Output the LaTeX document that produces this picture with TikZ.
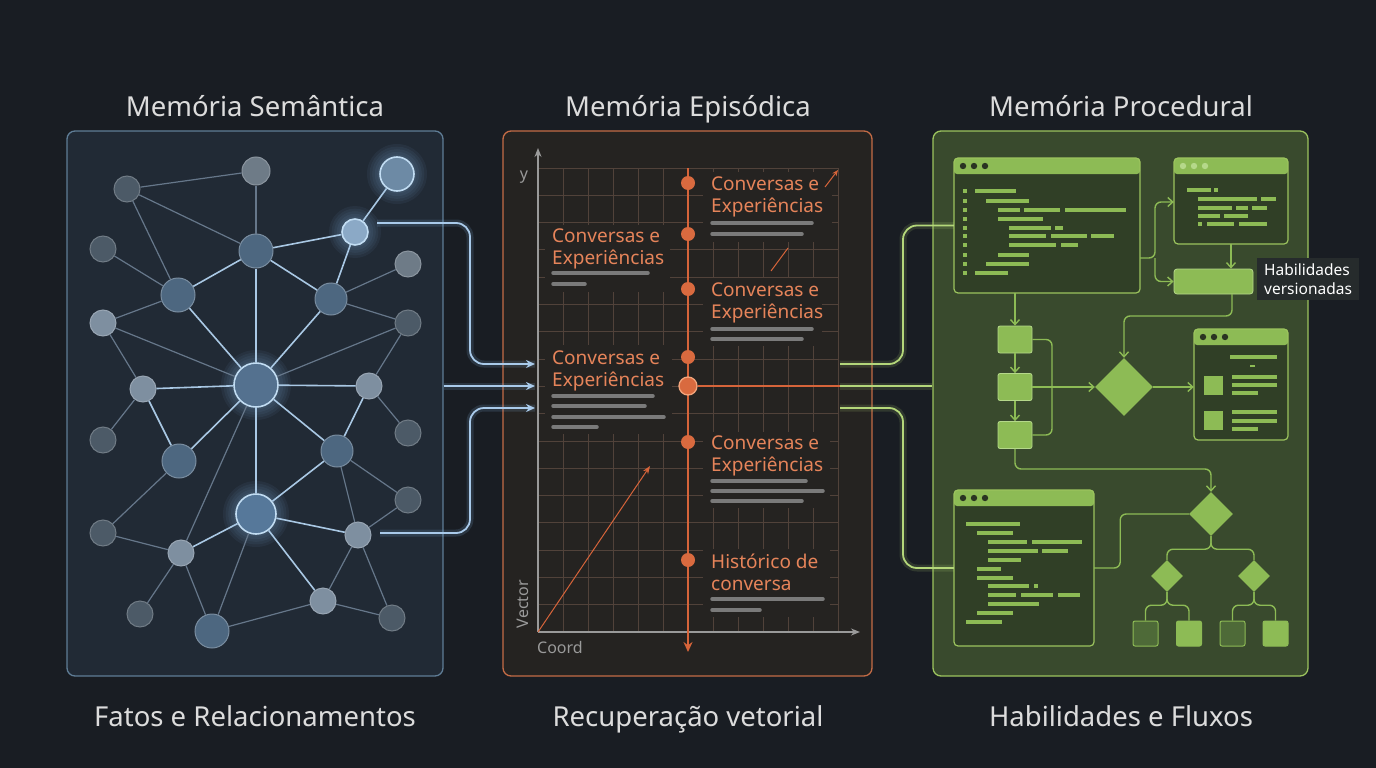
\documentclass[tikz,border=0pt]{standalone}
\usepackage{fontspec}
\setmainfont{Noto Sans}
\usetikzlibrary{arrows.meta,shapes.geometric}
\definecolor{bg}{HTML}{191D23}
\definecolor{lfill}{HTML}{212A35}
\definecolor{lborder}{HTML}{5F7D96}
\definecolor{mfill}{HTML}{252321}
\definecolor{mborder}{HTML}{C46C46}
\definecolor{rfill}{HTML}{394A2D}
\definecolor{rborder}{HTML}{9CC45E}
\definecolor{gr}{HTML}{8DBB55}
\definecolor{grdark}{HTML}{4E6A38}
\definecolor{grdot}{HTML}{2A3422}
\definecolor{grlight}{HTML}{B5D88A}
\definecolor{ttext}{HTML}{DCDCDC}
\definecolor{otext}{HTML}{E6845A}
\definecolor{oline}{HTML}{D6643A}
\definecolor{odot}{HTML}{D96A3F}
\definecolor{oring}{HTML}{F3A57C}
\definecolor{bars}{HTML}{7A7A7A}
\definecolor{gridc}{HTML}{51423A}
\definecolor{axisc}{HTML}{9A9A9A}
\definecolor{edim}{HTML}{66778A}
\definecolor{ebright}{HTML}{A9C8E4}
\definecolor{glowc}{HTML}{8CC0F0}
\definecolor{bluec}{HTML}{A9CAEA}
\definecolor{greenc}{HTML}{B4D77A}
\definecolor{labbg}{HTML}{262B2C}
\definecolor{hl}{HTML}{C2DDF3}
\definecolor{cgray}{HTML}{6E7B87}
\definecolor{cdark}{HTML}{4C5A67}
\definecolor{cblue}{HTML}{4D6780}
\definecolor{clight}{HTML}{7E8FA0}
\definecolor{hA}{HTML}{6D8AA5}
\definecolor{hB}{HTML}{8BA9C6}
\definecolor{hC}{HTML}{54718F}
\definecolor{hD}{HTML}{56789A}
\newcommand\gnode[5]{\node[#5,minimum size={2*#4}] (#1) at (#2,#3) {};}
\newcommand\halo[3]{\foreach \k in {1,...,5}{\fill[glowc,opacity=0.06] (#1,#2) circle ({#3+2.6*\k});}}
\newcommand\cl[3]{\draw[codeline] (#1,#3) -- (#2,#3);}
\newcommand\bl[3]{\draw[barline] (#1,#3) -- (#2,#3);}
\newcommand\codewin[6]{%
  \node[winbox,minimum width={#4-#2},minimum height={#5-#3}] (#1) at ({(#2+#4)/2},{(#3+#5)/2}) {};
  \fill[gr,rounded corners=3pt] (#2,#3) rectangle (#4,{#3+16});
  \fill[#6] ({#2+9},{#3+8}) circle (3.2);
  \fill[#6] ({#2+20},{#3+8}) circle (3.2);
  \fill[#6] ({#2+31},{#3+8}) circle (3.2);
  \draw[rborder,line width=1.2pt,rounded corners=4pt] (#2,#3) rectangle (#4,#5);
}
\begin{document}
\begin{tikzpicture}[x=1pt,y=-1pt,
  title/.style={font=\fontsize{27.5}{33}\selectfont, text=ttext, anchor=base, inner sep=0pt},
  panel/.style={rounded corners=8pt, line width=1.3pt, inner sep=0pt},
  gn/.style={circle, inner sep=0pt, line width=1pt},
  nG/.style={gn, fill=cgray, draw=cgray!80!white},
  nD/.style={gn, fill=cdark, draw=cdark!80!white},
  nB/.style={gn, fill=cblue, draw=cblue!75!white},
  nL/.style={gn, fill=clight, draw=clight!80!white},
  nH/.style={gn, fill=#1, draw=hl, line width=1.6pt},
  dimedge/.style={draw=edim, line width=1.2pt},
  brightedge/.style={draw=ebright, line width=1.6pt},
  ctext/.style={font=\fontsize{19}{22}\selectfont, text=otext, align=left, anchor=north west, inner sep=0pt},
  axlabel/.style={font=\fontsize{16}{18}\selectfont, text=axisc, inner sep=0pt},
  barline/.style={draw=bars, line width=3.5pt, line cap=round},
  codeline/.style={draw=gr, line width=3.6pt},
  tdot/.style={circle, inner sep=0pt, minimum size=14pt, fill=odot},
  winbox/.style={rectangle, rounded corners=4pt, fill=rfill!85!black, inner sep=0pt},
  gbox/.style={rectangle, rounded corners=2pt, fill=gr, draw=grlight, line width=0.8pt, inner sep=0pt, minimum width=34pt, minimum height=27pt},
  gdia/.style={diamond, fill=gr, inner sep=0pt, aspect=1},
  gsq/.style={rectangle, rounded corners=2pt, draw=gr, line width=1pt, inner sep=0pt, minimum size=25pt},
  gline/.style={draw=gr, line width=1.4pt, rounded corners=6pt},
  garrow/.style={gline, -{Straight Barb[length=5pt,width=9pt]}},
  blueconn/.style={draw=bluec, line width=1.8pt, rounded corners=14pt,
     preaction={draw=glowc, line width=7pt, draw opacity=0.15, arrows=-},
     -{Stealth[length=9pt,width=8pt]}},
  greenconn/.style={draw=greenc, line width=1.8pt, rounded corners=14pt,
     preaction={draw=greenc, line width=7pt, draw opacity=0.15}},
]
\useasboundingbox (0,0) rectangle (1376,768);
\fill[bg] (0,0) rectangle (1376,768);

% ---------- titles ----------
\node[title] (tL) at (255,116) {Memória Semântica};
\node[title] (tM) at (688,116) {Memória Episódica};
\node[title] (tR) at (1121,116) {Memória Procedural};
\node[title] (bL) at (255,726) {Fatos e Relacionamentos};
\node[title] (bM) at (688,726) {Recuperação vetorial};
\node[title] (bR) at (1121,726) {Habilidades e Fluxos};

% ---------- panels ----------
\node[panel, draw=lborder, fill=lfill, minimum width=376pt, minimum height=545pt] (pL) at (255,403.5) {};
\node[panel, draw=mborder, fill=mfill, minimum width=369pt, minimum height=545pt] (pM) at (687.5,403.5) {};
\node[panel, draw=rborder, fill=rfill, minimum width=375pt, minimum height=545pt] (pR) at (1120.5,403.5) {};

% ---------- left: graph ----------
\halo{397}{174}{17}
\halo{355}{232}{13}
\halo{256}{385}{22}
\halo{256}{514}{20}
\gnode{n1}{256}{171}{14}{nG}
\gnode{n2}{127}{189}{13}{nD}
\gnode{n3}{397}{174}{17}{nH=hA}
\gnode{n4}{355}{232}{13}{nH=hB}
\gnode{n5}{256}{251}{17}{nB}
\gnode{n6}{103}{249}{13}{nD}
\gnode{n7}{178}{295}{17}{nB}
\gnode{n8}{331}{299}{16}{nB}
\gnode{n9}{408}{264}{13}{nG}
\gnode{n10}{103}{323}{13}{nL}
\gnode{n11}{408}{323}{13}{nD}
\gnode{n12}{256}{385}{22}{nH=hC}
\gnode{n13}{143}{389}{13}{nL}
\gnode{n14}{369}{386}{13}{nL}
\gnode{n15}{103}{440}{13}{nD}
\gnode{n16}{408}{433}{13}{nD}
\gnode{n17}{179}{461}{17}{nB}
\gnode{n18}{337}{451}{16}{nB}
\gnode{n19}{256}{514}{20}{nH=hD}
\gnode{n20}{408}{500}{13}{nD}
\gnode{n21}{103}{533}{13}{nD}
\gnode{n22}{181}{553}{13}{nL}
\gnode{n23}{358}{535}{13}{nL}
\gnode{n24}{140}{614}{13}{nD}
\gnode{n25}{212}{631}{17}{nB}
\gnode{n26}{323}{601}{13}{nL}
\gnode{n27}{392}{618}{13}{nD}
\foreach \a/\b in {n2/n1,n2/n5,n2/n7,n1/n5,n6/n7,n10/n7,n8/n9,n8/n11,n10/n12,n10/n13,n11/n12,n11/n14,n13/n15,n12/n22,n17/n21,n18/n20,n18/n23,n19/n25,n20/n23,n21/n22,n22/n24,n22/n25,n23/n26,n23/n27,n25/n26,n26/n27,n14/n16}
  \draw[dimedge] (\a) -- (\b);
\foreach \a/\b in {n5/n4,n4/n3,n4/n8,n5/n7,n5/n8,n5/n12,n7/n12,n8/n12,n12/n13,n12/n14,n13/n17,n12/n17,n14/n18,n12/n18,n12/n19,n18/n19,n19/n23,n19/n22,n19/n26}
  \draw[brightedge] (\a) -- (\b);

% ---------- middle: timeline ----------
\foreach \k in {1,...,12} \draw[gridc, line width=0.8pt] ({538+25*\k},168) -- ({538+25*\k},632);
\foreach \k in {1,...,17} \draw[gridc, line width=0.8pt] (538,{632-27.3*\k}) -- (838,{632-27.3*\k});
% text backdrops
\fill[mfill] (703,172) rectangle (832,242);
\fill[mfill] (545,225) rectangle (670,292);
\fill[mfill] (703,278) rectangle (822,346);
\fill[mfill] (545,345) rectangle (672,434);
\fill[mfill] (703,432) rectangle (830,508);
\fill[mfill] (703,549) rectangle (830,617);

\coordinate (O) at (538,632);
\coordinate (Ytip) at (538,148);
\coordinate (Xtip) at (860,632);
\draw[axisc, line width=1.4pt, -{Stealth[length=9pt,width=7pt]}] (O) -- (Ytip);
\draw[axisc, line width=1.4pt, -{Stealth[length=9pt,width=7pt]}] (O) -- (Xtip);
\node[axlabel] (ly) at (524,177) {y};
\node[axlabel, rotate=90] (lv) at (523,604) {Vector};
\node[axlabel] (lc) at (560,647) {Coord};
\coordinate (D1) at (650,466);
\draw[oline, line width=1pt, -{Stealth[length=8pt,width=6pt]}] (O) -- (D1);
\coordinate (sa1) at (825,187);
\coordinate (sa2) at (838,170);
\draw[oline, line width=1pt, -{Stealth[length=6pt,width=5pt]}] (sa1) -- (sa2);
\coordinate (sl1) at (771,271);
\coordinate (sl2) at (788,248);
\draw[oline, line width=1pt] (sl1) -- (sl2);

\coordinate (T0) at (688,168);
\coordinate (T1) at (688,652);
\draw[oline, line width=2.6pt, -{Stealth[length=10pt,width=9pt]}] (T0) -- (T1);
\node[tdot] (d1) at (688,183) {};
\node[tdot] (d2) at (688,234) {};
\node[tdot] (d3) at (688,289) {};
\node[tdot] (d4) at (688,357) {};
\node[tdot, minimum size=18pt, draw=oring, line width=1.3pt] (d5) at (688,386) {};
\node[tdot] (d6) at (688,442) {};
\node[tdot] (d7) at (688,560) {};

\node[ctext] (c1) at (711,177) {Conversas e\\Experiências};
\bl{712}{812}{223}\bl{712}{802}{234}
\node[ctext] (c2) at (552,229) {Conversas e\\Experiências};
\bl{553}{648}{273}\bl{553}{585}{284}
\node[ctext] (c3) at (711,283) {Conversas e\\Experiências};
\bl{712}{812}{329}\bl{712}{802}{339}
\node[ctext] (c4) at (552,351) {Conversas e\\Experiências};
\bl{553}{653}{396}\bl{553}{645}{406}\bl{553}{664}{417}\bl{553}{597}{427}
\node[ctext] (c5) at (711,436) {Conversas e\\Experiências};
\bl{712}{806}{481}\bl{712}{823}{491}\bl{712}{802}{501}
\node[ctext] (c6) at (711,554) {Histórico de\\conversa};
\bl{712}{823}{599}\bl{712}{760}{610}

% ---------- right: procedural ----------
\codewin{w1}{954}{158}{1140}{293}{grdot}
\foreach \yy in {191,201,210,219,228,236,245,255,264,273} \fill[gr] (963,{\yy-2}) rectangle (967,{\yy+2});
\cl{975}{1016}{191}
\cl{986}{1029}{201}
\cl{998}{1020}{210}\cl{1024}{1060}{210}\cl{1065}{1126}{210}
\cl{998}{1043}{219}
\cl{1009}{1051}{228}\cl{1055}{1063}{228}
\cl{1009}{1046}{236}\cl{1051}{1087}{236}\cl{1091}{1114}{236}
\cl{1009}{1056}{245}\cl{1061}{1078}{245}
\cl{998}{1029}{255}
\cl{986}{1029}{264}
\cl{975}{1008}{273}

\codewin{w2}{1174}{158}{1288}{244}{grlight}
\cl{1187}{1211}{190}\cl{1214}{1218}{190}
\cl{1198}{1257}{199}\cl{1261}{1276}{199}
\cl{1198}{1232}{208}\cl{1236}{1248}{208}\cl{1252}{1267}{208}
\cl{1198}{1220}{216}\cl{1224}{1248}{216}
\cl{1198}{1202}{224}\cl{1207}{1234}{224}\cl{1239}{1267}{224}

\node[rectangle, rounded corners=3pt, fill=gr, draw=grlight, line width=0.8pt, inner sep=0pt, minimum width=79pt, minimum height=25pt] (vbar) at (1213.5,281.5) {};
\node[fill=labbg, anchor=west, inner xsep=7pt, inner ysep=5pt, align=left, text=white, font=\fontsize{15.5}{19.5}\selectfont] (vlab) at (1257,279) {Habilidades\\versionadas};

\codewin{w3}{1194}{329}{1288}{440}{grdot}
\cl{1230}{1277}{357}
\draw[gr, line width=1.5pt] (1250,366) -- (1255,366);
\fill[gr] (1204,376) rectangle (1223,395);
\fill[gr] (1204,411) rectangle (1223,430);
\cl{1232}{1277}{377}\cl{1232}{1277}{385}\cl{1232}{1258}{393}
\cl{1232}{1277}{412}\cl{1232}{1277}{421}\cl{1232}{1258}{429}

\codewin{w4}{954}{490}{1094}{646}{grdot}
\cl{966}{1020}{524}
\cl{977}{1013}{533}
\cl{988}{1027}{542}\cl{1032}{1082}{542}
\cl{988}{1038}{551}\cl{1042}{1068}{551}
\cl{988}{1021}{560}
\cl{977}{1001}{569}
\cl{977}{1013}{578}
\cl{988}{1029}{586}\cl{1034}{1038}{586}
\cl{988}{1016}{595}\cl{1021}{1053}{595}\cl{1058}{1080}{595}
\cl{988}{1039}{604}
\cl{977}{1013}{613}
\cl{966}{1002}{622}

\node[gbox] (bA) at (1015,339.5) {};
\node[gbox] (bB) at (1015,387) {};
\node[gbox] (bC) at (1015,435) {};
\node[gdia, minimum width=58pt, minimum height=58pt] (dm1) at (1124,387) {};
\node[gdia, minimum width=44pt, minimum height=44pt] (dm2) at (1211,514) {};
\node[gdia, minimum width=32pt, minimum height=32pt] (sd1) at (1167,576) {};
\node[gdia, minimum width=32pt, minimum height=32pt] (sd2) at (1254,576) {};
\node[gsq, fill=grdark] (sq1) at (1145.5,633.5) {};
\node[gsq, fill=gr] (sq2) at (1189,633.5) {};
\node[gsq, fill=grdark] (sq3) at (1232.5,633.5) {};
\node[gsq, fill=gr] (sq4) at (1275.5,633.5) {};

\coordinate (j1) at (1155,258);
\coordinate (a2) at (1174,202);
\draw[garrow] (w1.east |- j1) -- (j1) |- (w2.west |- a2);
\draw[garrow] (j1) |- (vbar.west);
\draw[garrow] (w2.south) -- (w2.south |- vbar.north);
\coordinate (v1) at (1232,294);
\draw[garrow] (v1) -- ++(0,22) -| (dm1.north);
\draw[garrow] (bA.north |- w1.south) -- (bA.north);
\draw[garrow] (bA.south) -- (bB.north);
\draw[garrow] (bB.south) -- (bC.north);
\coordinate (m1) at (1052,387);
\draw[gline] (bA.east) -| (m1);
\draw[gline] (bC.east) -| (m1);
\draw[garrow] (bB.east) -- (dm1.west);
\draw[garrow] (dm1.east) -- (w3.west |- dm1.east);
\coordinate (k) at (1211,469);
\draw[garrow] (bC.south) |- (k) -- (dm2.north);
\draw[gline] (w4.east) -- ++(26,0) |- (dm2.west);
\draw[gline] (dm2.south) -- ++(0,13) -| (sd1.north);
\draw[gline] (dm2.south) -- ++(0,13) -| (sd2.north);
\draw[gline] (sd1.south) -- ++(0,13) -| (sq1.north);
\draw[gline] (sd1.south) -- ++(0,13) -| (sq2.north);
\draw[gline] (sd2.south) -- ++(0,13) -| (sq3.north);
\draw[gline] (sd2.south) -- ++(0,13) -| (sq4.north);

% ---------- connectors between panels ----------
\coordinate (s1) at (377,223);
\coordinate (s3) at (380,533);
\coordinate (kL1) at (470,300);
\coordinate (kL3) at (470,470);
\coordinate (e1) at (535,364);
\coordinate (e2) at (535,386);
\coordinate (e3) at (535,408);
\draw[blueconn] (s1) -| (kL1) |- (e1);
\draw[blueconn] (pL.east |- d5) -- (e2);
\draw[blueconn] (s3) -| (kL3) |- (e3);

\coordinate (r1) at (840,364);
\coordinate (q2) at (840,386);
\coordinate (r3) at (840,408);
\coordinate (kR1) at (903,300);
\coordinate (kR3) at (903,480);
\draw[oline, line width=2pt] (d5) -- (q2);
\draw[greenconn] (r1) -| (kR1) |- (w1.west);
\draw[greenconn] (q2) -- (pR.west |- d5);
\draw[greenconn] (r3) -| (kR3) |- (w4.west);
\end{tikzpicture}
\end{document}
